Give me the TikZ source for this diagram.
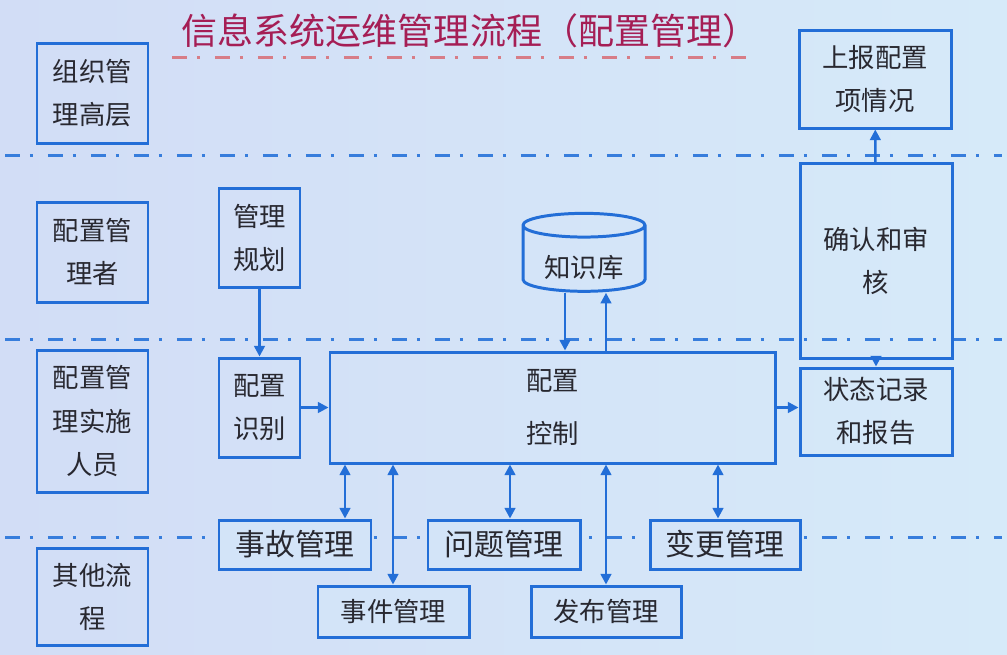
\documentclass[tikz,border=0pt]{standalone}
\usepackage{fontspec}
\setmainfont{Noto Sans CJK SC}
\usetikzlibrary{arrows.meta, shapes.geometric}

\definecolor{boxblue}{RGB}{35,110,215}
\definecolor{laneblue}{RGB}{55,125,220}
\definecolor{titlered}{RGB}{165,30,85}
\definecolor{dashred}{RGB}{215,125,135}
\definecolor{txtgray}{RGB}{40,40,48}
\definecolor{bgleft}{RGB}{210,221,246}
\definecolor{bgright}{RGB}{214,234,249}
\definecolor{bgmid}{RGB}{211,228,248}
\newcommand{\pxu}{0.02cm}

\begin{document}
\begin{tikzpicture}[
  x=\pxu, y=-\pxu,
  box/.style={draw=boxblue, line width=1.7pt, align=center, inner sep=0pt, text=txtgray,
              font=\fontsize{15}{24.5}\selectfont},
  lanebox/.style={box, minimum width=111*\pxu, minimum height=#1*\pxu},
  stepbox/.style={box, minimum width=81*\pxu, minimum height=99*\pxu},
  sidebox/.style={box, minimum width=152*\pxu, minimum height=#1*\pxu},
  procbox/.style={box, fill=bgmid, minimum width=152*\pxu, minimum height=49*\pxu,
                  font=\fontsize{17}{20}\selectfont},
  lowbox/.style={box, fill=bgmid, minimum width=151*\pxu, minimum height=51*\pxu},
  lane/.style={draw=laneblue, line width=1.7pt, dash pattern=on 0.3cm off 0.2cm on 0.06cm off 0.3cm},
  titleline/.style={draw=dashred, line width=1.7pt, dash pattern=on 0.3cm off 0.2cm on 0.06cm off 0.3cm},
  arr/.style={-{Triangle[length=6pt,width=6pt]}, draw=boxblue, line width=1.4pt},
  darr/.style={{Triangle[length=6pt,width=6pt]}-{Triangle[length=6pt,width=6pt]}, draw=boxblue, line width=1.4pt},
]

% background
\shade[left color=bgleft, right color=bgright] (0,0) rectangle (1007,654);
\useasboundingbox (0,0) rectangle (1007,654);

% ---------------------------------------------------------------
% title and swim lanes
% ---------------------------------------------------------------
\node[text=titlered, font=\fontsize{20.5}{24}\selectfont] (ttl) at (470,31) {信息系统运维管理流程（配置管理）};
\draw[titleline] (172,57) -- (748,57);

\foreach \y in {155,339,537}
  \draw[lane] (5,\y) -- (1002,\y);

\node[lanebox=100] (top)   at (92.5,93)    {组织管\\理高层};
\node[lanebox=100] (cmgr)  at (92.5,252)   {配置管\\理者};
\node[lanebox=142] (staff) at (92.5,421)   {配置管\\理实施\\人员};
\node[lanebox=97]  (other) at (92.5,596.5) {其他流\\程};

% ---------------------------------------------------------------
% configuration management steps
% ---------------------------------------------------------------
\node[stepbox] (plan)  at (259.5,237.5) {管理\\规划};
\node[stepbox] (ident) at (259.5,407.5) {配置\\识别};
\node[box, minimum width=445*\pxu, minimum height=111*\pxu] (ctrl) at (552.5,407.5) {配置\\[6pt]控制};
\node[box, cylinder, shape border rotate=90, aspect=0.3, text height=22pt,
      minimum width=122*\pxu, minimum height=77*\pxu] (kb) at (584,259) {知识库};

\node[sidebox=195] (audit)  at (876,261) {确认和审\\核};
\node[sidebox=87]  (status) at (876,411.5) {状态记录\\和报告};
\node[sidebox=98]  (report) at (875,79)    {上报配置\\项情况};

% other processes
\node[procbox] (incid) at (295,544.5) {事故管理};
\node[procbox] (prob)  at (504,544.5) {问题管理};
\node[procbox, minimum width=150*\pxu] (chg) at (725,544.5) {变更管理};
\node[lowbox] (event) at (393.5,611.5) {事件管理};
\node[lowbox, minimum width=150*\pxu] (rel) at (606,611.5) {发布管理};

% ---------------------------------------------------------------
% connectors
% ---------------------------------------------------------------
\draw[arr] (plan) -- (ident);
\draw[arr] (ident) -- (ctrl);
\draw[arr] (ctrl.east) -- (ctrl.east -| status.west);
\draw[arr] (565,0 |- kb.south) -- (565,0 |- ctrl.north);
\draw[arr] (606,0 |- ctrl.north) -- (606,0 |- kb.south);
\draw[arr] (audit) -- (status);
\draw[arr] (audit) -- (report);

\foreach \x/\n in {345/incid, 393/event, 510/prob, 606/rel, 718/chg}
  \draw[darr] (\x,0 |- ctrl.south) -- (\x,0 |- \n.north);

\end{tikzpicture}
\end{document}
